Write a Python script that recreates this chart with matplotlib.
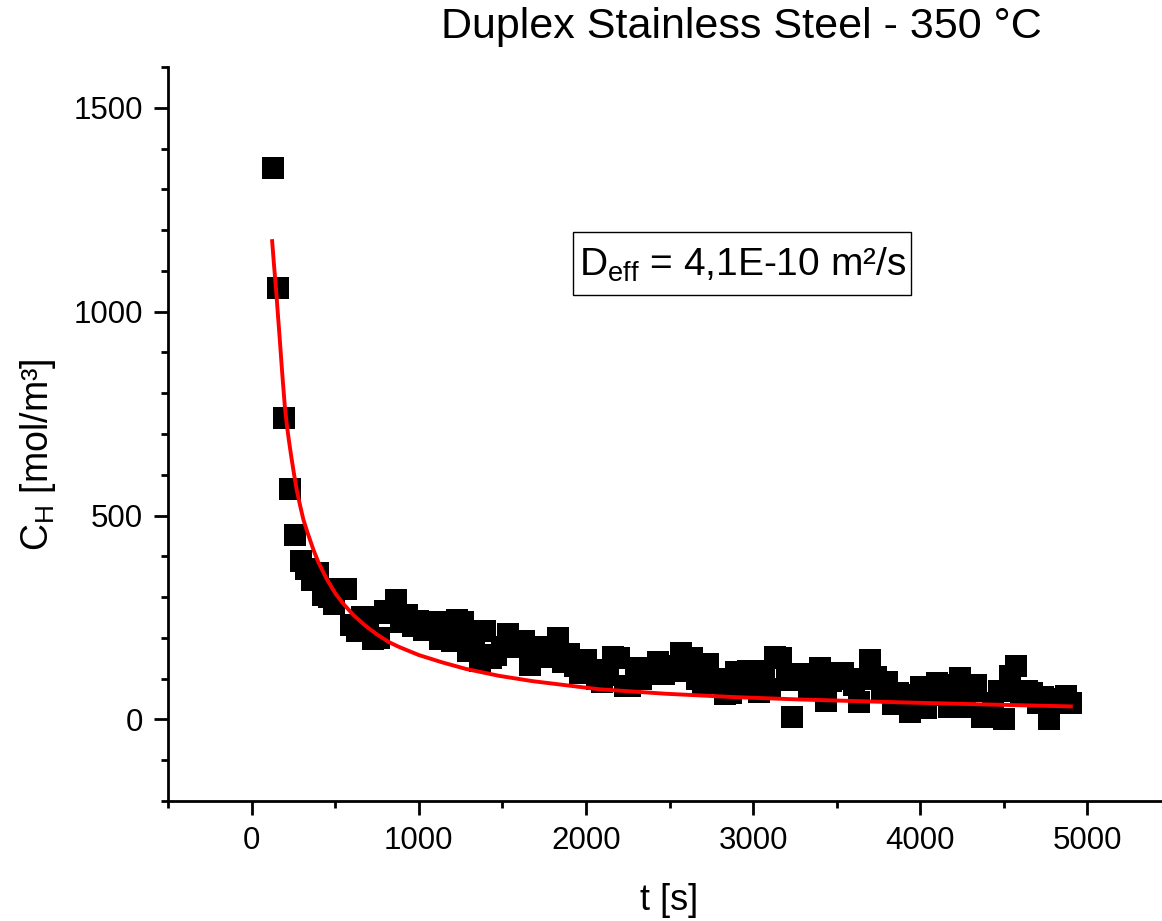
import matplotlib
matplotlib.use("Agg")
import matplotlib.pyplot as plt
from matplotlib.patches import Rectangle
from matplotlib.ticker import MultipleLocator

plt.rcParams['font.family'] = ['Liberation Sans', 'DejaVu Sans']
plt.rcParams['mathtext.fontset'] = 'custom'
plt.rcParams['mathtext.rm'] = 'Liberation Sans'
plt.rcParams['mathtext.it'] = 'Liberation Sans:italic'

# measured hydrogen concentration during desorption
t_meas = [128, 161, 195, 228, 262, 295, 328, 362, 395, 429,
          462, 495, 529, 562, 596, 629, 662, 696, 729, 763,
          796, 829, 863, 896, 930, 963, 996, 1030, 1063, 1097,
          1130, 1163, 1197, 1230, 1264, 1297, 1330, 1364, 1397, 1431,
          1464, 1497, 1531, 1564, 1598, 1631, 1664, 1698, 1731, 1765,
          1798, 1831, 1865, 1898, 1932, 1965, 1998, 2032, 2065, 2099,
          2132, 2165, 2199, 2232, 2266, 2299, 2332, 2366, 2399, 2433,
          2466, 2499, 2533, 2566, 2600, 2633, 2666, 2700, 2733, 2767,
          2800, 2833, 2867, 2900, 2934, 2967, 3000, 3034, 3067, 3101,
          3134, 3167, 3201, 3234, 3268, 3301, 3334, 3368, 3401, 3435,
          3468, 3501, 3535, 3568, 3602, 3635, 3668, 3702, 3735, 3769,
          3802, 3835, 3869, 3902, 3936, 3969, 4002, 4036, 4069, 4103,
          4136, 4169, 4203, 4236, 4270, 4303, 4336, 4370, 4403, 4437,
          4470, 4503, 4537, 4570, 4604, 4637, 4670, 4704, 4737, 4771,
          4804, 4837, 4871, 4904]
c_meas = [1353, 1057, 739, 565, 453, 389, 370, 342, 359, 305,
          300, 283, 321, 321, 231, 217, 251, 251, 197, 200,
          267, 260, 294, 240, 257, 230, 242, 220, 238, 240,
          197, 200, 193, 245, 240, 169, 197, 144, 217, 150,
          157, 178, 209, 185, 178, 192, 133, 170, 178, 154,
          165, 199, 140, 161, 130, 114, 147, 121, 100, 91,
          110, 154, 150, 83, 82, 127, 100, 111, 115, 142,
          111, 120, 130, 164, 120, 150, 100, 89, 135, 100,
          100, 62, 64, 116, 82, 119, 119, 68, 108, 75,
          152, 150, 97, 7, 111, 97, 80, 110, 125, 46,
          95, 113, 113, 98, 85, 43, 100, 147, 103, 70,
          92, 38, 64, 50, 18, 60, 79, 28, 60, 90,
          60, 30, 85, 102, 31, 70, 84, 7, 5, 40,
          70, 2, 106, 131, 60, 70, 66, 40, 55, 2,
          45, 50, 58, 40]

# fitted diffusion curve
t_fit = [123, 135, 147, 158, 169, 184, 199, 211, 223, 238,
         253, 270, 290, 310, 333, 370, 400, 450, 503, 552,
         612, 680, 752, 820, 881, 1000, 1140, 1281, 1480, 1679,
         2078, 2478, 2876, 3275, 3874, 4472, 4901]
c_fit = [1173, 1110, 1052, 990, 930, 845, 767, 722, 685, 643,
         604, 563, 525, 490, 460, 416, 385, 344, 308, 282,
         255, 230, 208, 190, 178, 158, 140, 124, 107, 94,
         74, 63, 55, 49, 42, 36, 32]

W, H = 1162, 921
fig = plt.figure(figsize=(W / 100, H / 100), dpi=100)
ax = fig.add_axes([168 / W, (H - 801) / H, (1171 - 168) / W, (801 - 67) / H])

ax.plot(t_meas, c_meas, linestyle='none', marker='s', markersize=15.5,
        markerfacecolor='black', markeredgewidth=0, zorder=2)
ax.plot(t_fit, c_fit, color='red', linewidth=2.8, zorder=3)

ax.set_xlim(-500, 5500)
ax.set_ylim(-200, 1600)
ax.xaxis.set_major_locator(MultipleLocator(1000))
ax.xaxis.set_minor_locator(MultipleLocator(500))
ax.yaxis.set_major_locator(MultipleLocator(500))
ax.yaxis.set_minor_locator(MultipleLocator(100))

for side in ['top', 'right']:
    ax.spines[side].set_visible(False)
for side in ['left', 'bottom']:
    ax.spines[side].set_linewidth(2)

ax.tick_params(which='major', direction='out', length=10, width=2,
               labelsize=22.5, pad=8)
ax.tick_params(which='minor', direction='out', length=5, width=2)

ax.set_xlabel('t [s]', fontsize=26)
ax.xaxis.set_label_coords(0.5, -(900 - 801) / (801 - 67), transform=ax.transAxes)
ax.xaxis.label.set_va('center')
ax.set_ylabel(r'C$_{\mathrm{H}}$ [mol/m³]', fontsize=27)
ax.yaxis.set_label_coords(-(168 - 38) / (1171 - 168), (801 - 455) / (801 - 67),
                          transform=ax.transAxes)
ax.yaxis.label.set_va('center')

fig.text(741 / W, 1 - 27 / H, 'Duplex Stainless Steel - 350 °C',
         fontsize=31, ha='center', va='center')

# annotation box with the effective diffusion coefficient
fig.patches.append(Rectangle((573 / W, 1 - 295 / H), (911 - 573) / W, 63 / H,
                             transform=fig.transFigure, fill=False,
                             edgecolor='black', linewidth=1))
fig.text(743 / W, 1 - 265 / H, r'D$_{\mathrm{eff}}$ = 4,1E-10 m²/s',
         fontsize=28, ha='center', va='center')

fig.savefig('out.png', dpi=100)
